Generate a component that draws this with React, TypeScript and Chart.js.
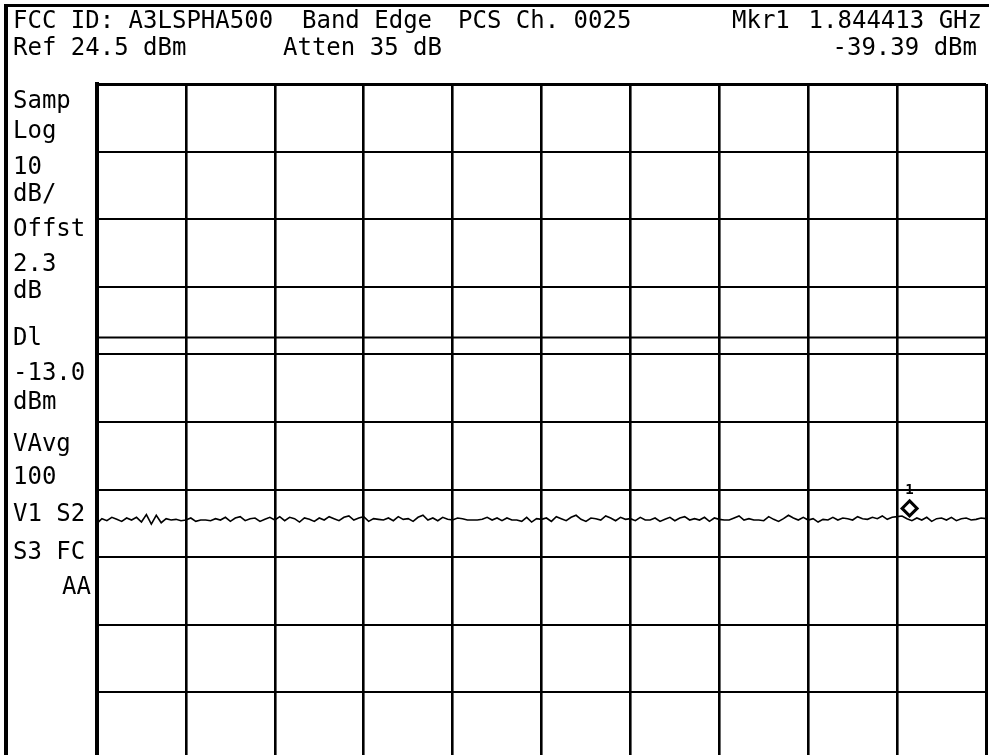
import React, { useEffect, useRef } from 'react';
import { Chart, registerables } from 'chart.js';

Chart.register(...registerables);

// ---- data ----
const FREQ_START_MHZ = 1785;
const FREQ_STOP_MHZ = 1850;
const X_GRID_MHZ = [1785, 1791.5, 1798, 1804.5, 1811, 1817.5, 1824, 1830.5, 1837, 1843.5, 1850];
const Y_GRID_DBM = [24.5, 14.5, 4.5, -5.5, -15.5, -25.5, -35.5, -45.5, -55.5, -65.5, -75.5];
const DISPLAY_LINE_DBM = -13.0;
const MARKER_MHZ = 1844.413;
const MARKER_DBM = -39.39;
const MARKER_LABEL = '1';

const TRACE_DBM = [
  -40.5, -39.8, -40.1, -39.6, -39.9, -40.2, -39.7, -40.0, -39.6, -40.3, -39.2, -40.6, -39.3, -40.4, -39.8, -40.0, -39.9, -40.1,
  -40.0, -39.7, -40.2, -40.0, -40.0, -40.1, -39.8, -40.0, -39.6, -40.2, -39.7, -39.5, -40.1, -39.8, -39.7, -40.2, -39.9, -39.6,
  -40.0, -39.5, -40.1, -39.6, -39.8, -40.3, -39.7, -39.9, -40.2, -39.7, -40.0, -39.5, -39.8, -40.1, -39.6, -39.4, -40.0, -39.7,
  -39.5, -40.2, -39.8, -39.9, -40.0, -39.7, -40.1, -39.5, -39.9, -39.8, -40.2, -39.6, -39.3, -40.0, -39.7, -40.1, -39.6, -39.9,
  -40.0, -39.7, -39.8, -40.0, -40.0, -40.0, -39.9, -39.6, -40.0, -39.7, -40.1, -39.7, -40.0, -40.0, -40.2, -39.6, -40.3, -39.8,
  -39.9, -39.7, -40.2, -39.5, -39.8, -40.1, -39.6, -39.3, -39.9, -40.2, -39.7, -39.8, -40.0, -39.4, -39.7, -40.1, -39.6, -39.9,
  -39.8, -40.1, -39.6, -40.0, -40.0, -39.7, -40.2, -39.9, -39.6, -40.1, -39.7, -39.5, -40.0, -39.8, -40.0, -39.6, -40.2, -39.7,
  -39.9, -40.0, -40.0, -39.7, -39.4, -40.0, -39.8, -40.0, -40.0, -40.1, -39.5, -39.9, -40.2, -39.8, -39.3, -39.7, -40.0, -39.6,
  -40.0, -39.8, -40.3, -39.9, -40.0, -39.6, -40.0, -39.7, -39.8, -40.0, -39.5, -39.8, -39.9, -39.6, -39.8, -39.4, -39.9, -39.6,
  -39.5, -39.4, -39.8, -40.1, -39.7, -40.0, -39.6, -40.2, -39.8, -39.7, -40.0, -39.6, -40.1, -39.8, -39.7, -40.0, -39.9, -39.7, -39.8,
];

const HEADER_ROW1_LEFT = ['FCC ID: A3LSPHA500', 'Band Edge', 'PCS Ch. 0025', 'Mkr1'];
const HEADER_ROW1_RIGHT = '1.844413 GHz';
const HEADER_ROW2_LEFT = ['Ref 24.5 dBm', 'Atten 35 dB'];
const HEADER_ROW2_RIGHT = '-39.39 dBm';
const SIDE_LABELS = ['Samp', 'Log', '10', 'dB/', 'Offst', '2.3', 'dB', 'Dl', '-13.0', 'dBm', 'VAvg', '100', 'V1 S2', 'S3 FC'];
const SIDE_LABEL_RIGHT = 'AA';

// ---- layout (pixels) ----
const W = 989;
const H = 770;
const FONT = '24px "DejaVu Sans Mono", "Liberation Mono", monospace';
const ROW1_X = [13, 302, 458, 732];
const ROW2_X = [13, 283];
const SIDE_BASELINES = [108, 138, 174, 201, 236, 271, 298, 345, 380, 409, 451, 484, 521, 559];

const overlayPlugin = {
  id: 'saOverlay',
  afterDraw(chart: any) {
    const ctx = chart.ctx as CanvasRenderingContext2D;
    const xs = chart.scales.x;
    const ys = chart.scales.y;
    ctx.save();
    ctx.strokeStyle = '#000';
    ctx.fillStyle = '#000';
    // outer frame
    ctx.lineWidth = 4;
    ctx.beginPath();
    ctx.moveTo(6, 4);
    ctx.lineTo(6, chart.height);
    ctx.stroke();
    ctx.lineWidth = 3;
    ctx.beginPath();
    ctx.moveTo(4, 5.5);
    ctx.lineTo(chart.width, 5.5);
    ctx.stroke();

    // header texts
    ctx.font = FONT;
    ctx.textBaseline = 'alphabetic';
    ctx.textAlign = 'left';
    HEADER_ROW1_LEFT.forEach((t, i) => ctx.fillText(t, ROW1_X[i], 28));
    HEADER_ROW2_LEFT.forEach((t, i) => ctx.fillText(t, ROW2_X[i], 55));
    SIDE_LABELS.forEach((t, i) => ctx.fillText(t, 13, SIDE_BASELINES[i]));
    ctx.textAlign = 'right';
    ctx.fillText(HEADER_ROW1_RIGHT, 982, 28);
    ctx.fillText(HEADER_ROW2_RIGHT, 977, 55);
    ctx.fillText(SIDE_LABEL_RIGHT, 91, 594);

    // marker diamond (bottom tip on the marker point)
    const mx = xs.getPixelForValue(MARKER_MHZ);
    const my = ys.getPixelForValue(MARKER_DBM);
    const r = 7.5;
    ctx.lineWidth = 3;
    ctx.beginPath();
    ctx.moveTo(mx, my - 2 * r);
    ctx.lineTo(mx + r, my - r);
    ctx.lineTo(mx, my);
    ctx.lineTo(mx - r, my - r);
    ctx.closePath();
    ctx.stroke();
    ctx.font = 'bold 14px "DejaVu Sans Mono", "Liberation Mono", monospace';
    ctx.textAlign = 'center';
    ctx.fillText(MARKER_LABEL, mx, my - 2 * r - 7);
    ctx.restore();
  },
};

export default function App() {
  const ref = useRef<HTMLCanvasElement | null>(null);

  useEffect(() => {
    document.documentElement.style.overflow = 'hidden';
    document.body.style.overflow = 'hidden';
    document.body.style.margin = '0';
    const canvas = ref.current;
    if (!canvas) return;
    const n = TRACE_DBM.length;
    const step = (FREQ_STOP_MHZ - FREQ_START_MHZ) / (n - 1);
    const trace = TRACE_DBM.map((v, i) => ({ x: FREQ_START_MHZ + i * step, y: v }));
    const dl = [
      { x: FREQ_START_MHZ, y: DISPLAY_LINE_DBM },
      { x: FREQ_STOP_MHZ, y: DISPLAY_LINE_DBM },
    ];
    const lastX = X_GRID_MHZ.length - 1;
    const lastY = Y_GRID_DBM.length - 1;
    const chart = new Chart(canvas, {
      type: 'line',
      data: {
        datasets: [
          {
            data: trace,
            borderColor: '#000',
            borderWidth: 1.6,
            pointRadius: 0,
            tension: 0,
          },
          {
            data: dl,
            borderColor: '#000',
            borderWidth: 2,
            pointRadius: 0,
          },
        ],
      },
      options: {
        animation: false,
        responsive: false,
        maintainAspectRatio: false,
        layout: { padding: { left: 97, top: 84, right: 3, bottom: 10 } },
        plugins: { legend: { display: false }, tooltip: { enabled: false } },
        scales: {
          x: {
            type: 'linear',
            min: FREQ_START_MHZ,
            max: FREQ_STOP_MHZ,
            afterBuildTicks: (s: any) => {
              s.ticks = X_GRID_MHZ.map((v) => ({ value: v }));
            },
            ticks: { display: false },
            grid: {
              color: '#000',
              lineWidth: (c: any) => (c.index === 0 || c.index === lastX ? 3 : 2.6),
              drawTicks: false,
            },
            border: { display: true, color: '#000', width: 4 },
          },
          y: {
            type: 'linear',
            min: Y_GRID_DBM[lastY],
            max: Y_GRID_DBM[0],
            afterBuildTicks: (s: any) => {
              s.ticks = Y_GRID_DBM.map((v) => ({ value: v }));
            },
            ticks: { display: false },
            grid: {
              color: '#000',
              lineWidth: (c: any) => (c.index === 0 || c.index === lastY ? 3 : 2),
              drawTicks: false,
            },
            border: { display: true, color: '#000', width: 4 },
          },
        },
      },
      plugins: [overlayPlugin],
    });
    return () => chart.destroy();
  }, []);

  return (
    <div style={{ position: 'absolute', left: 0, top: 0, width: W, height: H, background: '#fff' }}>
      <canvas ref={ref} width={W} height={H} style={{ display: 'block', width: W, height: H }} />
    </div>
  );
}
